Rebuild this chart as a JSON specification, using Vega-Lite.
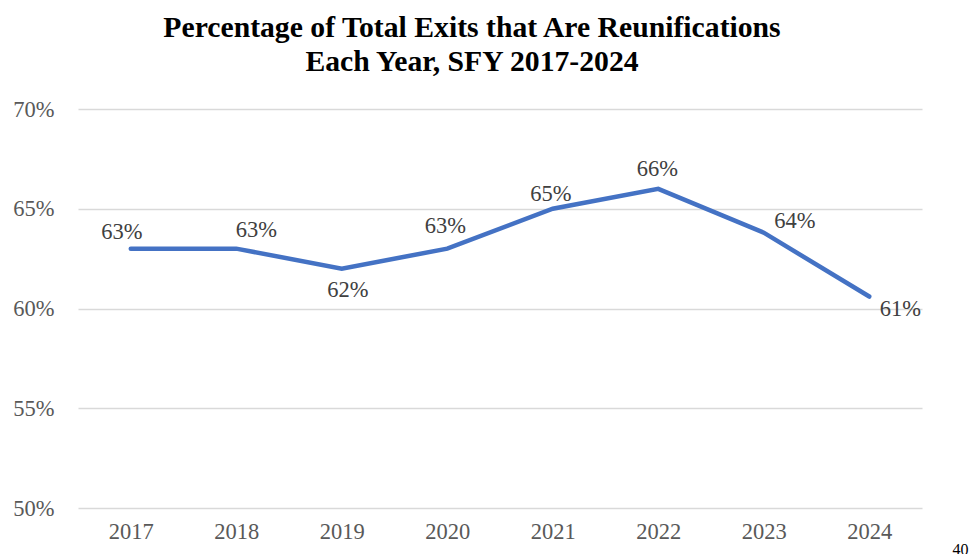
{
  "$schema": "https://vega.github.io/schema/vega-lite/v6.json",
  "width": 844,
  "height": 399,
  "autosize": {"type": "none"},
  "padding": {"left": 78, "top": 109, "right": 50, "bottom": 46},
  "background": "white",
  "config": {
    "font": "Times New Roman, Liberation Serif, serif",
    "view": {"stroke": null},
    "text": {"font": "Times New Roman, Liberation Serif, serif"},
    "axis": {"grid": true, "gridColor": "#d9d9d9", "gridWidth": 1.5, "domain": false, "ticks": false, "labelFont": "Times New Roman, Liberation Serif, serif", "labelFontSize": 22.5, "labelColor": "#595959"}
  },
  "title": {
    "text": ["Percentage of Total Exits that Are Reunifications", "Each Year, SFY 2017-2024"],
    "font": "Times New Roman, Liberation Serif, serif",
    "fontSize": 29.7,
    "fontWeight": "bold",
    "color": "#000000",
    "anchor": "middle",
    "frame": "group",
    "dx": -28,
    "lineHeight": 34,
    "offset": 20
  },
  "data": {
    "values": [
      {"year": "2017", "share": 0.630},
      {"year": "2018", "share": 0.630},
      {"year": "2019", "share": 0.620},
      {"year": "2020", "share": 0.630},
      {"year": "2021", "share": 0.650},
      {"year": "2022", "share": 0.660},
      {"year": "2023", "share": 0.638},
      {"year": "2024", "share": 0.606}
    ]
  },
  "encoding": {
    "x": {
      "field": "year", "type": "ordinal",
      "scale": {"type": "point", "padding": 0.5},
      "axis": {"labelAngle": 0, "grid": false, "labelPadding": 12, "title": "40", "titleFont": "Times New Roman, Liberation Serif, serif", "titleFontSize": 16, "titleFontWeight": "normal", "titleColor": "#000000", "titleAnchor": "start", "titleAlign": "left", "titleBaseline": "top", "titleX": 874, "titleY": 33}
    },
    "y": {
      "field": "share", "type": "quantitative",
      "scale": {"domain": [0.5, 0.7], "nice": false, "zero": false},
      "axis": {"values": [0.5, 0.55, 0.6, 0.65, 0.7], "format": ".0%", "title": null, "labelPadding": 24}
    }
  },
  "layer": [
    {"mark": {"type": "line", "color": "#4472C4", "strokeWidth": 4.5, "strokeCap": "round", "strokeJoin": "miter"}},
    {"transform": [{"filter": "datum.year == '2017'"}], "mark": {"type": "text", "font": "Times New Roman, Liberation Serif, serif", "fontSize": 22.5, "color": "#404040", "baseline": "middle", "dx": -9, "dy": -17}, "encoding": {"text": {"field": "share", "format": ".0%"}}},
    {"transform": [{"filter": "datum.year == '2018'"}], "mark": {"type": "text", "font": "Times New Roman, Liberation Serif, serif", "fontSize": 22.5, "color": "#404040", "baseline": "middle", "dx": 20, "dy": -19}, "encoding": {"text": {"field": "share", "format": ".0%"}}},
    {"transform": [{"filter": "datum.year == '2019'"}], "mark": {"type": "text", "font": "Times New Roman, Liberation Serif, serif", "fontSize": 22.5, "color": "#404040", "baseline": "middle", "dx": 6, "dy": 21}, "encoding": {"text": {"field": "share", "format": ".0%"}}},
    {"transform": [{"filter": "datum.year == '2020'"}], "mark": {"type": "text", "font": "Times New Roman, Liberation Serif, serif", "fontSize": 22.5, "color": "#404040", "baseline": "middle", "dx": -2, "dy": -23}, "encoding": {"text": {"field": "share", "format": ".0%"}}},
    {"transform": [{"filter": "datum.year == '2021'"}], "mark": {"type": "text", "font": "Times New Roman, Liberation Serif, serif", "fontSize": 22.5, "color": "#404040", "baseline": "middle", "dx": -2, "dy": -15}, "encoding": {"text": {"field": "share", "format": ".0%"}}},
    {"transform": [{"filter": "datum.year == '2022'"}], "mark": {"type": "text", "font": "Times New Roman, Liberation Serif, serif", "fontSize": 22.5, "color": "#404040", "baseline": "middle", "dx": -1, "dy": -20}, "encoding": {"text": {"field": "share", "format": ".0%"}}},
    {"transform": [{"filter": "datum.year == '2023'"}], "mark": {"type": "text", "font": "Times New Roman, Liberation Serif, serif", "fontSize": 22.5, "color": "#404040", "baseline": "middle", "dx": 31, "dy": -12}, "encoding": {"text": {"field": "share", "format": ".0%"}}},
    {"transform": [{"filter": "datum.year == '2024'"}], "mark": {"type": "text", "font": "Times New Roman, Liberation Serif, serif", "fontSize": 22.5, "color": "#404040", "baseline": "middle", "dx": 31, "dy": 12}, "encoding": {"text": {"field": "share", "format": ".0%"}}}
  ]
}
